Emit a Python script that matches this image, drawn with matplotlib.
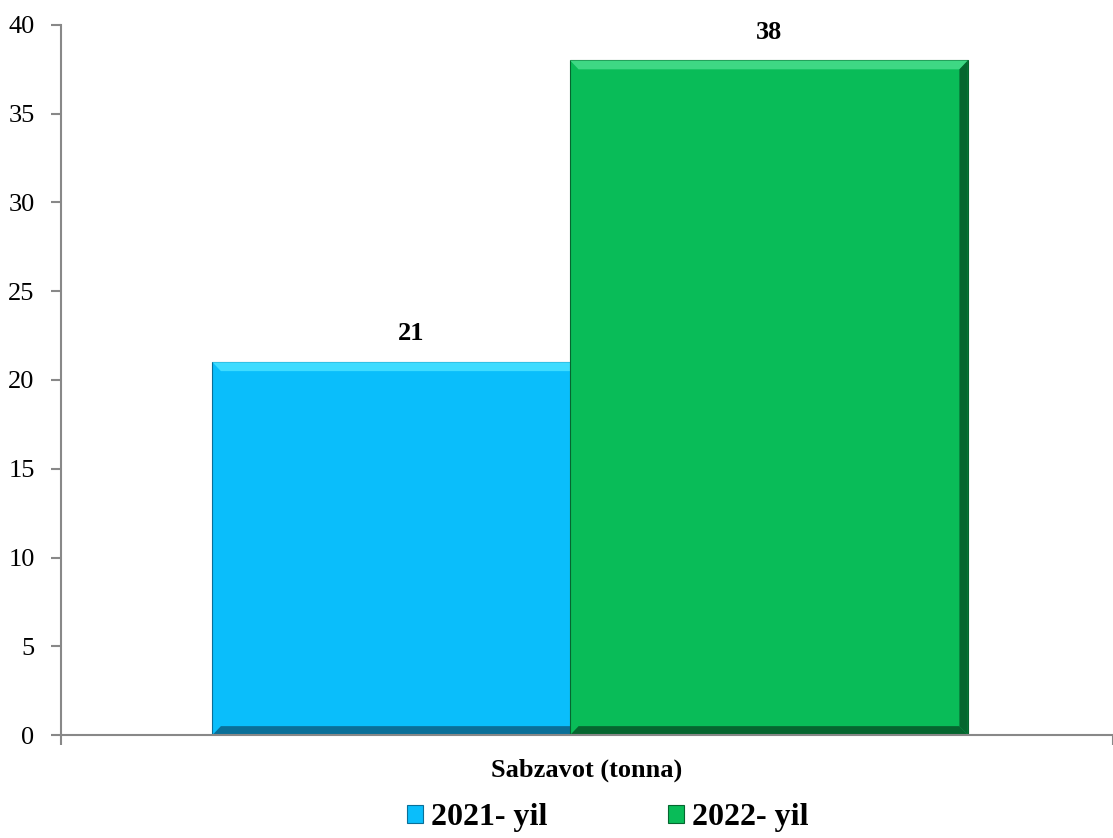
import numpy as np
import matplotlib.pyplot as plt
from matplotlib.patches import Polygon

# data
category = ['Sabzavot (tonna)']
series_names = ['2021- yil', '2022- yil']
values = [21, 38]
colors = ['#0ABEFB', '#09BC58']
light_colors = ['#3FDCFF', '#3ED884']
dark_colors = ['#0A6F98', '#05662F']

plt.rcParams['font.family'] = ['Liberation Serif', 'DejaVu Serif']

fig = plt.figure(figsize=(11.13, 8.38), dpi=100)
ax = fig.add_axes([0.0548, 0.1229, 0.9452, 0.8473])

offsets = [-0.167, 0.173]
width = 0.378
dx, dy = 0.008, 0.5  # bevel size

handles = []
for i in range(len(values)):
    z = 2 + i * 2
    b = ax.bar(offsets[i], values[i], width=width, color=colors[i],
               edgecolor=dark_colors[i], linewidth=0.8, label=series_names[i], zorder=z)
    handles.append(b)
    x0 = offsets[i] - width / 2
    x1 = offsets[i] + width / 2
    h = values[i]
    # simple bevel bands
    ax.add_patch(Polygon([(x0, h), (x1, h), (x1 - dx, h - dy), (x0 + dx, h - dy)],
                         closed=True, color=light_colors[i], lw=0, zorder=z + 0.5))
    ax.add_patch(Polygon([(x1, h), (x1, 0), (x1 - dx, dy), (x1 - dx, h - dy)],
                         closed=True, color=dark_colors[i], lw=0, zorder=z + 0.5))
    ax.add_patch(Polygon([(x0, 0), (x1, 0), (x1 - dx, dy), (x0 + dx, dy)],
                         closed=True, color=dark_colors[i], lw=0, zorder=z + 0.5))
    ax.text(offsets[i], h + 0.95, str(h), ha='center', va='bottom',
            fontsize=19, fontweight='bold', zorder=10)

ax.set_xlim(-0.5, 0.5)
ax.set_ylim(0, 40)
ax.set_yticks(np.arange(0, 41, 5))
ax.tick_params(axis='y', labelsize=19, colors='#888888', labelcolor='black',
               length=7, width=1.5, direction='out', pad=12)

ax.set_xticks([0])
ax.set_xticklabels(category, fontsize=19, fontweight='bold')
ax.tick_params(axis='x', length=0, pad=17)
ax.set_xticks([-0.5, 0.5], minor=True)
ax.tick_params(axis='x', which='minor', length=7, width=1.5, colors='#888888')

for s in ['top', 'right']:
    ax.spines[s].set_visible(False)
for s in ['left', 'bottom']:
    ax.spines[s].set_color('#888888')
    ax.spines[s].set_linewidth(1.5)
    ax.spines[s].set_zorder(12)

leg = fig.legend(handles=handles, labels=series_names, loc='center',
                 bbox_to_anchor=(0.546, 0.024), ncol=2, frameon=False,
                 prop={'size': 23, 'weight': 'bold'}, handlelength=0.5,
                 handleheight=0.5, handletextpad=0.25, columnspacing=3.8,
                 borderpad=0.1)

fig.savefig('out.png', dpi=100)
